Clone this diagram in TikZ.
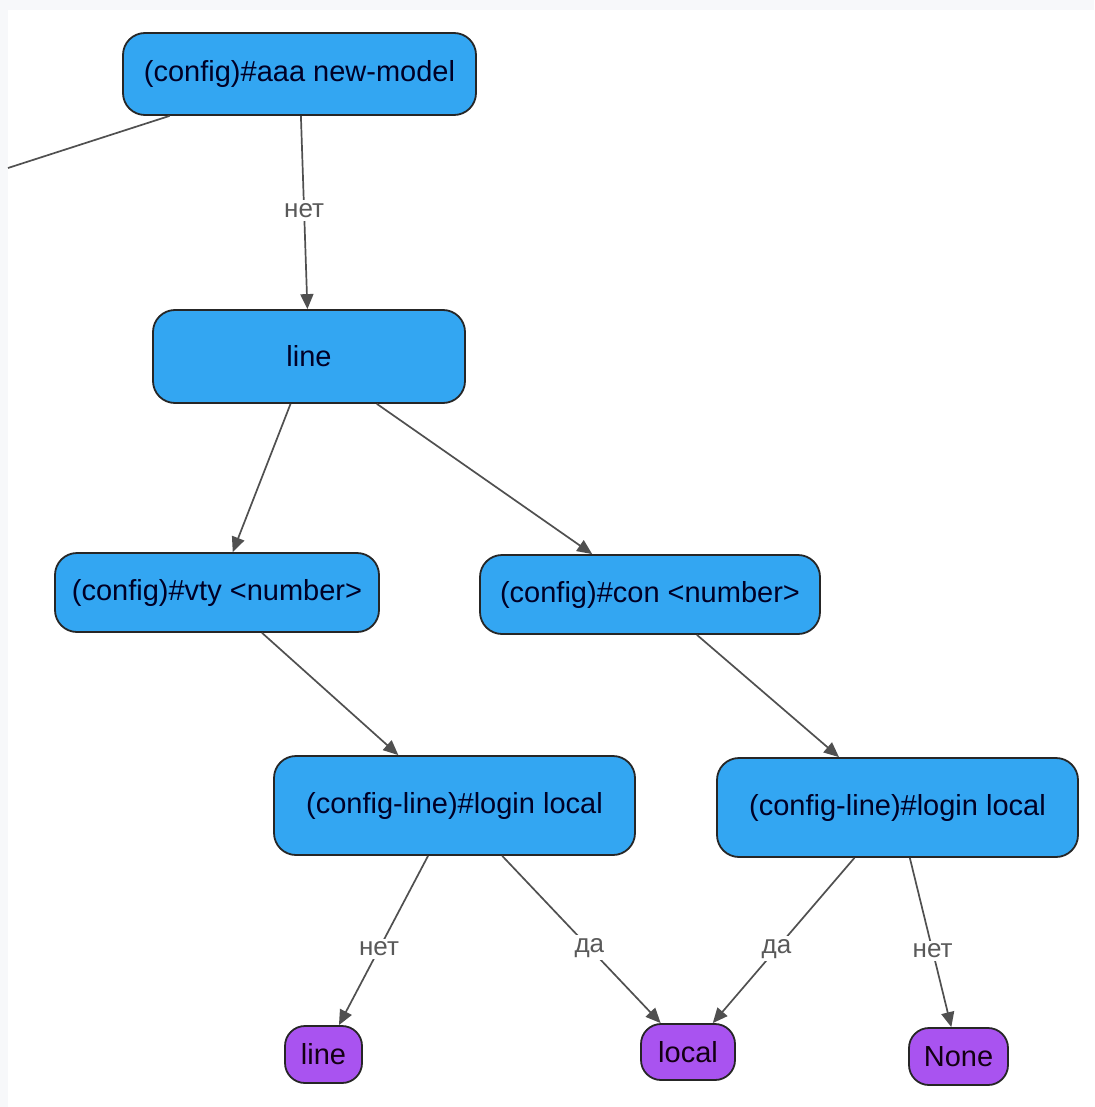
\documentclass[tikz,border=0pt]{standalone}
\usepackage{fontspec}
\setmainfont{Liberation Sans}
\usetikzlibrary{arrows.meta}
\definecolor{nodeblue}{HTML}{33A6F2}
\definecolor{leafpurple}{HTML}{A953F0}
\definecolor{edgegrey}{HTML}{505050}
\definecolor{pagegrey}{HTML}{F7F8FA}
\begin{document}
\begin{tikzpicture}[x=0.5pt, y=-0.5pt,
	blockbox/.style={draw=black!85, line width=0.9pt, fill=nodeblue, rounded corners=11pt, text=black!85!blue, font=\fontsize{14.5}{17}\selectfont, inner sep=0pt},
	leafbox/.style={blockbox, fill=leafpurple, rounded corners=10pt, text=black!85!violet},
	link/.style={draw=edgegrey, line width=0.85pt, -{Triangle[length=7.5pt, width=6.5pt]}},
	answer/.style={fill=white, text=black!65, font=\fontsize{13}{15}\selectfont, inner sep=1.5pt}]
	% page
	\fill[white] (0,0) rectangle (1094,1107);
	\fill[pagegrey] (0,0) rectangle (1094,10);
	\fill[pagegrey] (0,0) rectangle (8,1107);
	\useasboundingbox (0,0) rectangle (1094,1107);
	% nodes
	\node[blockbox, minimum width=176.5pt, minimum height=41pt] (aaa) at (299.5,74) {(config)\#aaa new-model\hspace{8pt}};
	\node[blockbox, minimum width=156pt, minimum height=46.5pt] (line) at (309,356.5) {line};
	\node[blockbox, minimum width=162pt, minimum height=39.5pt] (vty) at (217,592.5) {(config)\#vty <number>};
	\node[blockbox, minimum width=170pt, minimum height=39.5pt] (con) at (650,594.5) {(config)\#con <number>};
	\node[blockbox, minimum width=180.5pt, minimum height=49.5pt] (loginvty) at (454.5,805.5) {(config-line)\#login local};
	\node[blockbox, minimum width=180.5pt, minimum height=49.5pt] (logincon) at (897.5,807.5) {(config-line)\#login local};
	\node[leafbox, minimum width=38.5pt, minimum height=28.5pt] (leafline) at (323.5,1054.5) {line};
	\node[leafbox, minimum width=47pt, minimum height=28pt] (leaflocal) at (688,1052) {local};
	\node[leafbox, minimum width=49.5pt, minimum height=28.5pt] (leafnone) at (958.5,1056.5) {None};
	\coordinate (offleft) at (8,168);
	% connectors
	\draw[draw=edgegrey, line width=0.85pt] (aaa) -- (offleft);
	\draw[link] (aaa) -- (line) node[answer, pos=0.49] {нет};
	\draw[link] (line) -- (vty);
	\draw[link] (line) -- (con);
	\draw[link] (vty) -- (loginvty);
	\draw[link] (con) -- (logincon);
	\draw[link] (loginvty) -- (leafline) node[answer, pos=0.55] {нет};
	\draw[link] (loginvty) -- (leaflocal) node[answer, pos=0.55] {да};
	\draw[link] (logincon) -- (leaflocal) node[answer, pos=0.55] {да};
	\draw[link] (logincon) -- (leafnone) node[answer, pos=0.55] {нет};
\end{tikzpicture}
\end{document}
